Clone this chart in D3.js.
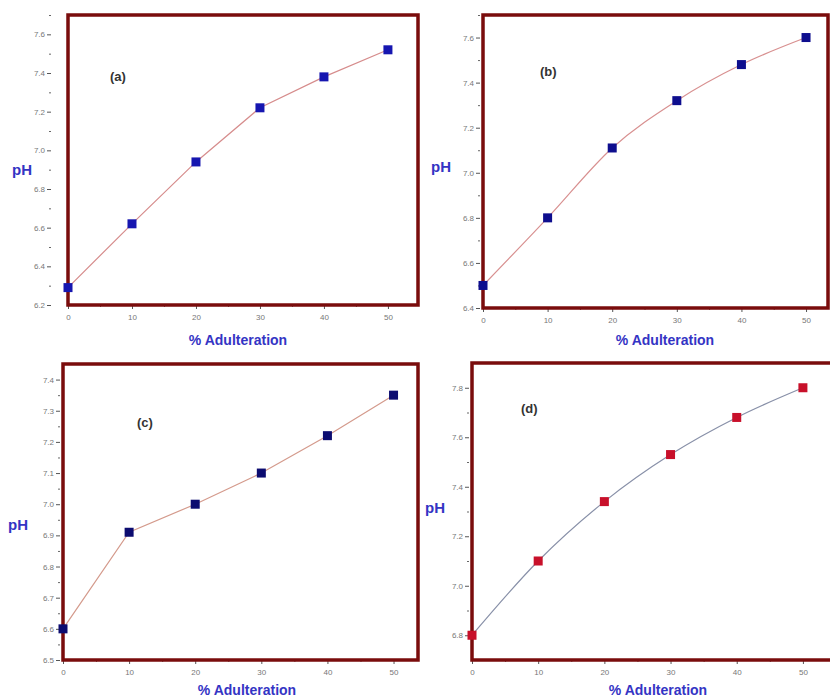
<!DOCTYPE html>
<html>
<head>
<meta charset="utf-8">
<script src="https://cdn.jsdelivr.net/npm/d3@7"></script>
<style>
  body { margin: 0; background: #fff; }
  svg { display: block; font-family: "Liberation Sans", Arial, sans-serif; }
</style>
</head>
<body>
<div id="chart"></div>
<script>
// data
var adulteration = [0, 10, 20, 30, 40, 50];
var phA = [6.29, 6.62, 6.94, 7.22, 7.38, 7.52];
var phB = [6.50, 6.80, 7.11, 7.32, 7.48, 7.60];
var phC = [6.60, 6.91, 7.00, 7.10, 7.22, 7.35];
var phD = [6.80, 7.10, 7.34, 7.53, 7.68, 7.80];

var xTicks = [0, 10, 20, 30, 40, 50];
var yTicksA = [6.2, 6.4, 6.6, 6.8, 7.0, 7.2, 7.4, 7.6];
var yTicksB = [6.4, 6.6, 6.8, 7.0, 7.2, 7.4, 7.6];
var yTicksC = [6.5, 6.6, 6.7, 6.8, 6.9, 7.0, 7.1, 7.2, 7.3, 7.4];
var yTicksD = [6.8, 7.0, 7.2, 7.4, 7.6, 7.8];

var panelNames = ["(a)", "(b)", "(c)", "(d)"];

var width = 830, height = 699;

var svg = d3.select("#chart")
  .append("svg")
  .attr("width", width)
  .attr("height", height);

// layout of each panel (box in pixels, domains, styling)
var panels = [
  { name: panelNames[0], values: phA, yTicks: yTicksA, box: [68, 15, 418, 305], xMax: 54.7, yDom: [6.2, 7.7],
    yOff: 17, curve: d3.curveLinear, line: "#d68c8c", marker: "#1616b0",
    tag: [110, 81], pH: [12, 175], xLab: [238, 345] },
  { name: panelNames[1], values: phB, yTicks: yTicksB, box: [483, 15, 828, 308], xMax: 53.4, yDom: [6.4, 7.7],
    yOff: 3, curve: d3.curveMonotoneX, line: "#d89090", marker: "#0e0e8e",
    tag: [540, 76], pH: [431, 172], xLab: [665, 345] },
  { name: panelNames[2], values: phC, yTicks: yTicksC, box: [63, 364, 418, 660], xMax: 53.7, yDom: [6.5, 7.45],
    yOff: 3, curve: d3.curveLinear, line: "#d49a8c", marker: "#0c0c70",
    tag: [137, 427], pH: [8, 530], xLab: [247, 695] },
  { name: panelNames[3], values: phD, yTicks: yTicksD, box: [472, 363, 836, 660], xMax: 55, yDom: [6.7, 7.9],
    yOff: 3, curve: d3.curveMonotoneX, line: "#8890a8", marker: "#c8102a",
    tag: [521, 413], pH: [425, 513], xLab: [658, 695] }
];

panels.forEach(function (p) {
  var x0 = p.box[0], y0 = p.box[1], x1 = p.box[2], y1 = p.box[3];

  var xScale = d3.scaleLinear().domain([0, p.xMax]).range([x0, x1]);
  var yScale = d3.scaleLinear().domain(p.yDom).range([y1, y0]);

  var g = svg.append("g");

  // minor x ticks
  var xMinor = d3.range(5, p.xMax, 10);
  g.append("g")
    .attr("transform", "translate(0," + y1 + ")")
    .call(d3.axisBottom(xScale).tickValues(xMinor).tickSize(2).tickFormat(""))
    .call(function (a) { a.select(".domain").remove(); a.selectAll("line").attr("stroke", "#666"); });

  // major x ticks
  g.append("g")
    .attr("transform", "translate(0," + y1 + ")")
    .call(d3.axisBottom(xScale).tickValues(xTicks).tickSize(4).tickPadding(5).tickFormat(d3.format("d")))
    .call(function (a) {
      a.select(".domain").remove();
      a.selectAll("line").attr("stroke", "#555");
      a.selectAll("text").attr("fill", "#777").attr("font-size", 8);
    });

  // y ticks (major + minor)
  var step = p.yTicks[1] - p.yTicks[0];
  var yMinor = p.yTicks.map(function (t) { return t + step / 2; })
    .filter(function (t) { return t < p.yDom[1]; });

  g.append("g")
    .attr("transform", "translate(" + (x0 - p.yOff) + ",0)")
    .call(d3.axisLeft(yScale).tickValues(yMinor).tickSize(2).tickFormat(""))
    .call(function (a) { a.select(".domain").remove(); a.selectAll("line").attr("stroke", "#666"); });

  g.append("g")
    .attr("transform", "translate(" + (x0 - p.yOff) + ",0)")
    .call(d3.axisLeft(yScale).tickValues(p.yTicks).tickSize(4).tickPadding(2).tickFormat(d3.format(".1f")))
    .call(function (a) {
      a.select(".domain").remove();
      a.selectAll("line").attr("stroke", "#555");
      a.selectAll("text").attr("fill", "#777").attr("font-size", 8);
    });

  // frame
  g.append("rect")
    .attr("x", x0)
    .attr("y", y0)
    .attr("width", x1 - x0)
    .attr("height", y1 - y0)
    .attr("fill", "none")
    .attr("stroke", "#7a0c0c")
    .attr("stroke-width", 3.5);

  var line = d3.line()
    .x(function (d, i) { return xScale(adulteration[i]); })
    .y(function (d) { return yScale(d); })
    .curve(p.curve);

  g.append("path")
    .datum(p.values)
    .attr("d", line)
    .attr("fill", "none")
    .attr("stroke", p.line)
    .attr("stroke-width", 1.2);

  g.selectAll("rect.dot")
    .data(p.values)
    .enter()
    .append("rect")
    .attr("class", "dot")
    .attr("x", function (d, i) { return xScale(adulteration[i]) - 4.5; })
    .attr("y", function (d) { return yScale(d) - 4.5; })
    .attr("width", 9)
    .attr("height", 9)
    .attr("fill", p.marker);

  // labels
  g.append("text")
    .attr("x", p.tag[0])
    .attr("y", p.tag[1])
    .attr("font-size", 13)
    .attr("font-weight", "bold")
    .attr("fill", "#333")
    .text(p.name);

  g.append("text")
    .attr("x", p.pH[0])
    .attr("y", p.pH[1])
    .attr("font-size", 15)
    .attr("font-weight", "bold")
    .attr("fill", "#3434c4")
    .text("pH");

  g.append("text")
    .attr("x", p.xLab[0])
    .attr("y", p.xLab[1])
    .attr("text-anchor", "middle")
    .attr("font-size", 14)
    .attr("font-weight", "bold")
    .attr("fill", "#3434c4")
    .text("% Adulteration");
});
</script>
</body>
</html>
